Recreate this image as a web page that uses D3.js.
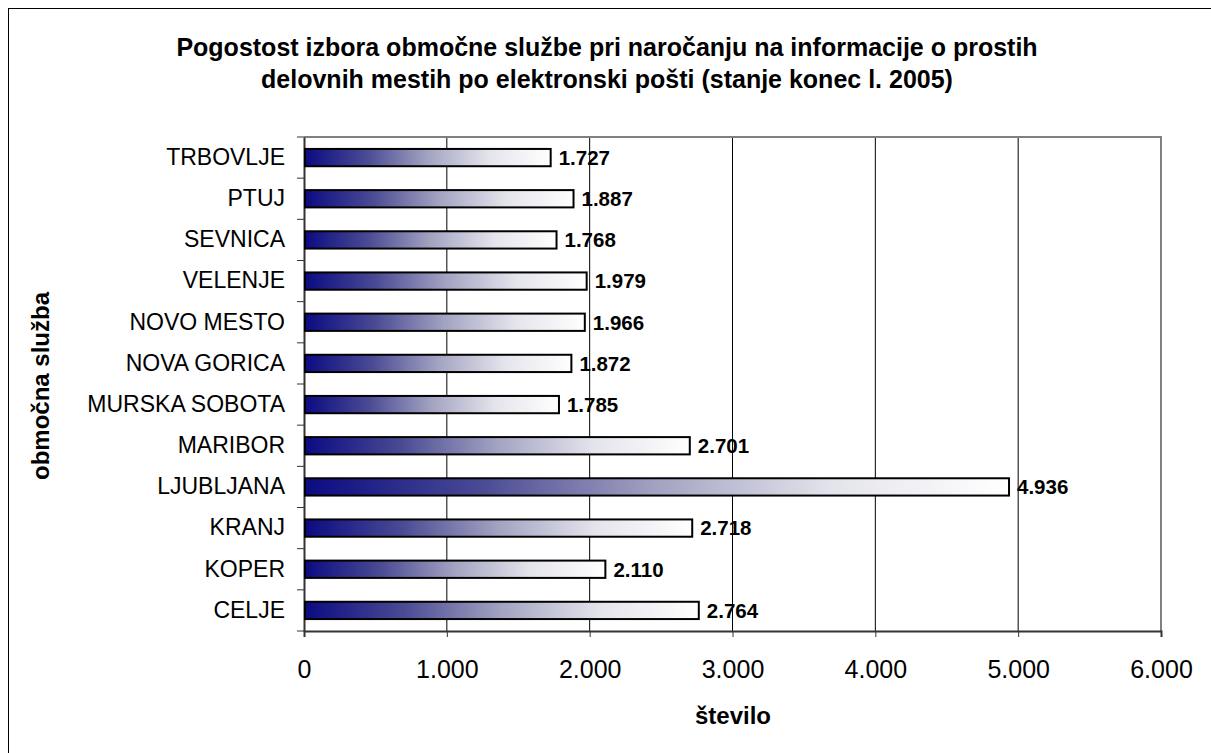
<!DOCTYPE html>
<html>
<head>
<meta charset="utf-8">
<script src="https://cdn.jsdelivr.net/npm/d3@7"></script>
<style>
  body { margin: 0; background: #fff; }
  svg { font-family: "Liberation Sans", Arial, sans-serif; }
</style>
</head>
<body>
<div class="chart"></div>
<script>
// categories top to bottom as in the picture
const categories = ['TRBOVLJE', 'PTUJ', 'SEVNICA', 'VELENJE', 'NOVO MESTO', 'NOVA GORICA',
  'MURSKA SOBOTA', 'MARIBOR', 'LJUBLJANA', 'KRANJ', 'KOPER', 'CELJE'];
const values = [1727, 1887, 1768, 1979, 1966, 1872, 1785, 2701, 4936, 2718, 2110, 2764];
const xTicks = [0, 1000, 2000, 3000, 4000, 5000, 6000];
const titleLines = [
  'Pogostost izbora območne službe pri naročanju na informacije o prostih',
  'delovnih mestih po elektronski pošti (stanje konec l. 2005)'
];

function displayChart() {
  const w = 1211;
  const h = 753;
  const margin = { top: 137, right: 50, bottom: 122, left: 304 };

  const locale = d3.formatLocale({ decimal: ',', thousands: '.', grouping: [3], currency: ['', ' €'] });
  const fmt = locale.format(',d');

  const svg = d3.select('.chart')
    .append('svg')
    .attr('width', w)
    .attr('height', h);

  // outer frame
  svg.append('rect')
    .attr('x', 8.5)
    .attr('y', 8.5)
    .attr('width', w + 20)
    .attr('height', h + 20)
    .attr('fill', '#fff')
    .attr('stroke', '#000')
    .attr('stroke-width', 1);

  const grad = svg.append('defs')
    .append('linearGradient')
    .attr('id', 'barGrad')
    .attr('x1', '0%').attr('x2', '100%')
    .attr('y1', '0%').attr('y2', '0%');
  grad.append('stop').attr('offset', '0%').attr('stop-color', '#0b0b82');
  grad.append('stop').attr('offset', '25%').attr('stop-color', '#4a4a94');
  grad.append('stop').attr('offset', '50%').attr('stop-color', '#a3a3c2');
  grad.append('stop').attr('offset', '75%').attr('stop-color', '#e4e4ec');
  grad.append('stop').attr('offset', '100%').attr('stop-color', '#ffffff');

  const xScale = d3.scaleLinear()
    .domain([0, 6000])
    .range([margin.left, w - margin.right]);
  const yScale = d3.scaleBand()
    .domain(categories)
    .range([margin.top, h - margin.bottom])
    .paddingInner(0.58)
    .paddingOuter(0.29);

  // title
  svg.append('text')
    .attr('x', 607)
    .attr('y', 56)
    .attr('text-anchor', 'middle')
    .attr('font-size', 25)
    .attr('font-weight', 'bold')
    .selectAll('tspan')
    .data(titleLines)
    .enter()
    .append('tspan')
    .attr('x', 607)
    .attr('dy', (d, i) => i === 0 ? 0 : 32)
    .text(d => d);

  // vertical grid lines
  svg.append('g')
    .selectAll('line')
    .data(xTicks.slice(1, -1))
    .enter()
    .append('line')
    .attr('x1', d => xScale(d))
    .attr('x2', d => xScale(d))
    .attr('y1', margin.top)
    .attr('y2', h - margin.bottom)
    .attr('stroke', '#000')
    .attr('stroke-width', 1);

  // top and right plot border
  svg.append('path')
    .attr('d', `M${margin.left},${margin.top}H${w - margin.right}V${h - margin.bottom}`)
    .attr('fill', 'none')
    .attr('stroke', '#808080')
    .attr('stroke-width', 2);

  const xAxis = svg.append('g')
    .attr('class', 'x-axis')
    .attr('transform', `translate(0, ${h - margin.bottom})`)
    .call(d3.axisBottom(xScale).tickValues(xTicks).tickFormat(fmt).tickSize(6).tickPadding(23));
  xAxis.select('.domain').attr('stroke', '#333').attr('stroke-width', 2);
  xAxis.selectAll('.tick line').attr('stroke', '#333');
  xAxis.selectAll('.tick text')
    .attr('font-size', 25)
    .attr('font-family', '"Liberation Sans", Arial, sans-serif')
    .attr('fill', '#000');

  const yAxis = svg.append('g')
    .attr('class', 'y-axis')
    .attr('transform', `translate(${margin.left}, 0)`)
    .call(d3.axisLeft(yScale).tickSize(0).tickPadding(19));
  yAxis.select('.domain').attr('stroke', '#333').attr('stroke-width', 2);
  yAxis.selectAll('.tick text')
    .attr('font-size', 23)
    .attr('font-family', '"Liberation Sans", Arial, sans-serif')
    .attr('fill', '#000');

  // tick marks between categories
  const step = yScale.step();
  yAxis.selectAll('.sep')
    .data(d3.range(categories.length + 1))
    .enter()
    .append('line')
    .attr('class', 'sep')
    .attr('x1', -7)
    .attr('x2', 0)
    .attr('y1', i => margin.top + i * step)
    .attr('y2', i => margin.top + i * step)
    .attr('stroke', '#333');

  svg.selectAll('rect.bar')
    .data(values)
    .enter()
    .append('rect')
    .attr('class', 'bar')
    .attr('x', xScale(0) + 1)
    .attr('y', (d, i) => yScale(categories[i]))
    .attr('width', d => xScale(d) - xScale(0) - 1)
    .attr('height', yScale.bandwidth())
    .attr('fill', 'url(#barGrad)')
    .attr('stroke', '#000')
    .attr('stroke-width', 2);

  svg.selectAll('text.val')
    .data(values)
    .enter()
    .append('text')
    .attr('class', 'val')
    .attr('x', d => xScale(d) + 8)
    .attr('y', (d, i) => yScale(categories[i]) + yScale.bandwidth() / 2)
    .attr('dy', '0.36em')
    .attr('font-size', 20.5)
    .attr('font-weight', 'bold')
    .text(d => fmt(d));

  svg.append('text')
    .attr('x', 733)
    .attr('y', 724)
    .attr('text-anchor', 'middle')
    .attr('font-size', 24)
    .attr('font-weight', 'bold')
    .text('število');

  svg.append('text')
    .attr('transform', 'rotate(-90)')
    .attr('x', -386)
    .attr('y', 49)
    .attr('text-anchor', 'middle')
    .attr('font-size', 24)
    .attr('font-weight', 'bold')
    .text('območna služba');
}

displayChart();
</script>
</body>
</html>
